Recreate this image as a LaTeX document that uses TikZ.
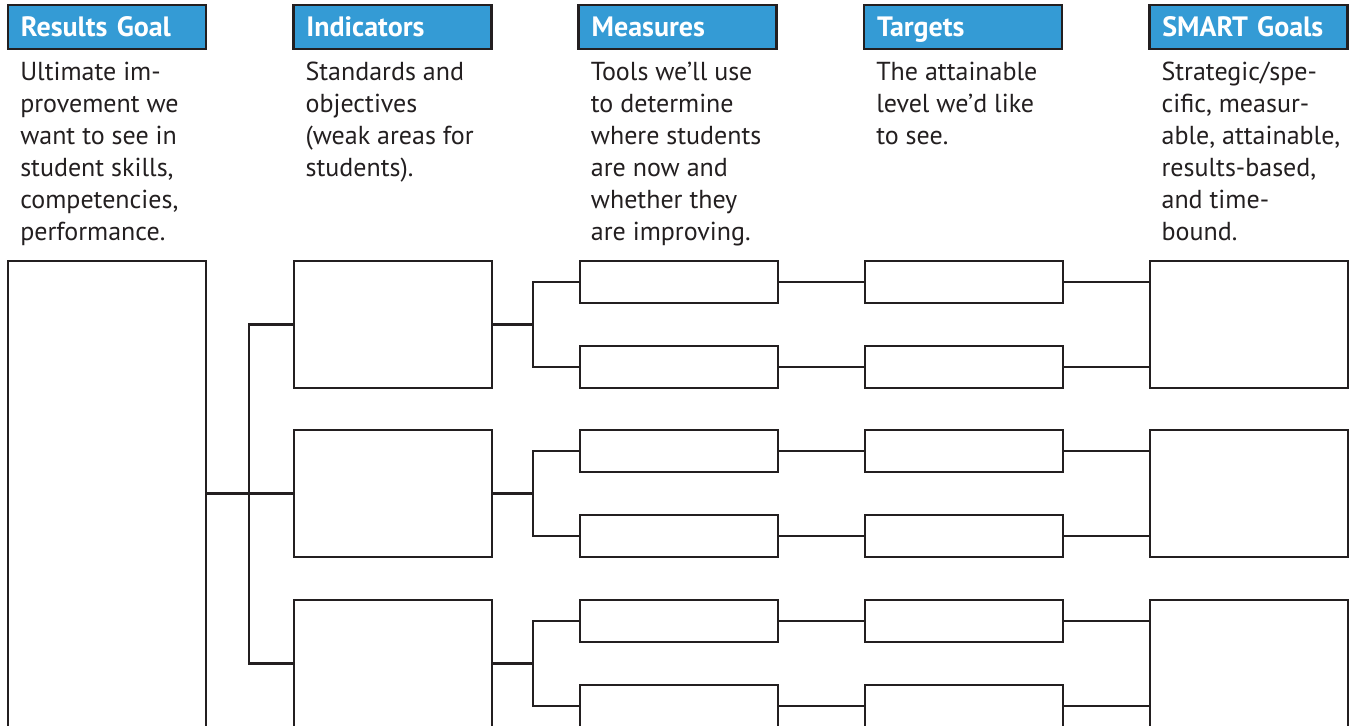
\documentclass[tikz,border=0pt]{standalone}
\usepackage{fontspec}
\setmainfont{PT Sans}
\usepackage{xcolor}
\usetikzlibrary{positioning}

\definecolor{headblue}{RGB}{52,155,213}
\definecolor{inkgray}{RGB}{35,31,32}

\tikzset{
  head/.style={draw=inkgray, line width=2pt, fill=headblue, text=white,
    font=\bfseries\fontsize{21}{24}\selectfont, anchor=north west,
    outer sep=0pt, inner xsep=9.75pt, inner ysep=0pt, text width=129pt,
    align=left, minimum height=33pt, text height=14.4pt, text depth=0pt},
  desc/.style={anchor=base west, inner sep=0pt, text=inkgray,
    font=\fontsize{19.5}{24}\selectfont},
  bigbox/.style={draw=inkgray, line width=1.6pt, anchor=north west,
    outer sep=0pt, inner sep=0pt, minimum width=148.5pt, minimum height=95.25pt},
  smallbox/.style={bigbox, minimum height=31.5pt},
  wire/.style={draw=inkgray, line width=1.6pt}
}

\begin{document}
\begin{tikzpicture}[x=0.75pt,y=-0.75pt]
  \clip (0,0) rectangle (1351,725);

  % column headers
  \node[head] (hgoal) at (8,5) {Results Goal};
  \node[head, right=65.5pt of hgoal] (hind) {Indicators};
  \node[head, right=65.5pt of hind] (hmeas) {Measures};
  \node[head, right=65.5pt of hmeas] (htarg) {Targets};
  \node[head, right=65.5pt of htarg] (hsmart) {SMART Goals};

  % what each column means
  \node[desc] (dgoal) at ([shift={(12,31)}]hgoal.south west)
    {\parbox[t]{150pt}{\raggedright Ultimate im-\\provement we\\want to see in\\student skills,\\competencies,\\performance.}};
  \node[desc] (dind) at ([shift={(12,31)}]hind.south west)
    {\parbox[t]{150pt}{\raggedright Standards and\\objectives\\(weak areas for\\students).}};
  \node[desc] (dmeas) at ([shift={(12,31)}]hmeas.south west)
    {\parbox[t]{150pt}{\raggedright Tools we’ll use\\to determine\\where students\\are now and\\whether they\\are improving.}};
  \node[desc] (dtarg) at ([shift={(12,31)}]htarg.south west)
    {\parbox[t]{150pt}{\raggedright The attainable\\level we’d like\\to see.}};
  \node[desc] (dsmart) at ([shift={(12,31)}]hsmart.south west)
    {\parbox[t]{150pt}{\raggedright Strategic/spe-\\cific, measur-\\able, attainable,\\results-based,\\and time-\\bound.}};

  % blank boxes to fill in
  \node[bigbox, minimum height=600pt] (goal) at (8,261) {};
  \foreach \r/\rowtop in {1/261,2/430,3/600}{
    \node[bigbox] (ind\r) at (294,\rowtop) {};
    \node[smallbox] (meas\r1) at (580,\rowtop) {};
    \node[smallbox] (meas\r2) at (580,\rowtop+85) {};
    \node[smallbox] (targ\r1) at (865,\rowtop) {};
    \node[smallbox] (targ\r2) at (865,\rowtop+85) {};
    \node[bigbox] (smart\r) at (1150,\rowtop) {};
    % links of one row
    \draw[wire] (ind\r.east) -- ++(41,0) coordinate (bus\r);
    \draw[wire] (meas\r1.west) -| (bus\r) |- (meas\r2.west);
    \draw[wire] (meas\r1) -- (targ\r1);
    \draw[wire] (meas\r2) -- (targ\r2);
    \draw[wire] (targ\r1.east) -- (targ\r1.east -| smart\r.west);
    \draw[wire] (targ\r2.east) -- (targ\r2.east -| smart\r.west);
  }

  % goal to indicators
  \draw[wire] (ind2.west) -- (ind2.west -| goal.east);
  \draw[wire] (ind1.west) -- ++(-45,0) |- (ind3.west);
\end{tikzpicture}
\end{document}
